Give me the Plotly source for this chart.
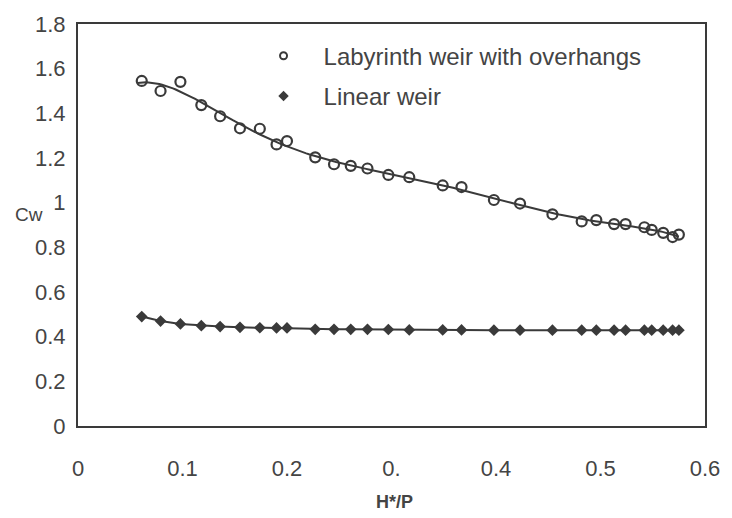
import numpy as np
import plotly.graph_objects as go

# H*/P values (shared by both series)
h_over_p = [0.061, 0.079, 0.098, 0.118, 0.136, 0.155, 0.174, 0.190, 0.200, 0.227,
            0.245, 0.261, 0.277, 0.297, 0.317, 0.349, 0.367, 0.398, 0.423, 0.454,
            0.482, 0.496, 0.513, 0.524, 0.542, 0.549, 0.560, 0.569, 0.575]

# Cw – labyrinth weir with overhangs (open circles)
cw_labyrinth = [1.545, 1.500, 1.541, 1.437, 1.387, 1.333, 1.331, 1.261, 1.276, 1.203,
                1.172, 1.165, 1.153, 1.124, 1.114, 1.077, 1.070, 1.012, 0.996, 0.948,
                0.916, 0.922, 0.904, 0.904, 0.890, 0.878, 0.865, 0.846, 0.857]

# Cw – linear weir (filled diamonds)
cw_linear = [0.490, 0.470, 0.457, 0.449, 0.445, 0.442, 0.440, 0.439, 0.439, 0.433,
             0.433, 0.433, 0.433, 0.432, 0.430, 0.430, 0.430, 0.429, 0.429, 0.429,
             0.429, 0.429, 0.429, 0.429, 0.429, 0.429, 0.429, 0.429, 0.429]

x_ticks = [0, 0.1, 0.2, 0.3, 0.4, 0.5, 0.6]
x_tick_labels = ["0", "0.1", "0.2", "0.", "0.4", "0.5", "0.6"]
y_ticks = [0, 0.2, 0.4, 0.6, 0.8, 1.0, 1.2, 1.4, 1.6, 1.8]
y_tick_labels = ["0", "0.2", "0.4", "0.6", "0.8", "1", "1.2", "1.4", "1.6", "1.8"]

INK = "#3a3a3a"
TXT = "#444444"
FONT = "Liberation Sans, Arial, sans-serif"

# polynomial trendline for the labyrinth weir data
coef = np.polyfit(h_over_p, cw_labyrinth, 6)
xf = np.linspace(min(h_over_p) - 0.004, max(h_over_p), 200)
yf = np.polyval(coef, xf)

fig = go.Figure()

fig.add_trace(go.Scatter(x=xf, y=yf, mode="lines",
                         line=dict(color=INK, width=2), showlegend=False,
                         hoverinfo="skip"))
fig.add_trace(go.Scatter(x=h_over_p, y=cw_labyrinth, mode="markers",
                         marker=dict(symbol="circle-open", size=10, color=INK,
                                     line=dict(color=INK, width=2.2)),
                         showlegend=False))
fig.add_trace(go.Scatter(x=h_over_p, y=cw_linear, mode="lines+markers",
                         line=dict(color=INK, width=2),
                         marker=dict(symbol="diamond", size=9, color=INK),
                         showlegend=False))

# legend entries (markers only)
fig.add_trace(go.Scatter(x=[None], y=[None], mode="markers",
                         name="Labyrinth weir with overhangs", legendgroup="a",
                         marker=dict(symbol="circle-open", size=7, color=INK,
                                     line=dict(color=INK, width=2))))
fig.add_trace(go.Scatter(x=[None], y=[None], mode="markers",
                         name="Linear weir", legendgroup="b",
                         marker=dict(symbol="diamond", size=8, color=INK)))

fig.update_layout(
    width=732, height=518,
    margin=dict(l=78, r=22, t=15, b=92),
    paper_bgcolor="white", plot_bgcolor="white",
    font=dict(family=FONT, color=TXT, size=22),
    showlegend=True,
    legend=dict(x=0.264, y=0.976, xanchor="left", yanchor="top",
                bgcolor="rgba(0,0,0,0)", font=dict(size=24, color=TXT),
                tracegroupgap=6, traceorder="grouped", itemwidth=70),
    xaxis=dict(range=[0, 0.6], tickvals=x_ticks, ticktext=x_tick_labels,
               showgrid=False, zeroline=False, showline=True, mirror=True,
               linecolor=INK, linewidth=2, ticks="", ticklabelstandoff=22,
               tickfont=dict(size=22, color=TXT)),
    yaxis=dict(range=[0, 1.8], tickvals=y_ticks, ticktext=y_tick_labels,
               showgrid=False, zeroline=False, showline=True, mirror=True,
               linecolor=INK, linewidth=2, ticks="", ticklabelstandoff=6,
               tickfont=dict(size=22, color=TXT)),
    annotations=[
        dict(text="Cw", xref="paper", yref="paper", x=-0.0775, y=0.527,
             xanchor="center", yanchor="middle", showarrow=False,
             font=dict(size=19, color=TXT)),
        dict(text="<b>H*/P</b>", xref="paper", yref="paper", x=0.505, y=-0.19,
             xanchor="center", yanchor="middle", showarrow=False,
             font=dict(size=18, color=TXT)),
    ],
)

fig.write_html("out.html")
